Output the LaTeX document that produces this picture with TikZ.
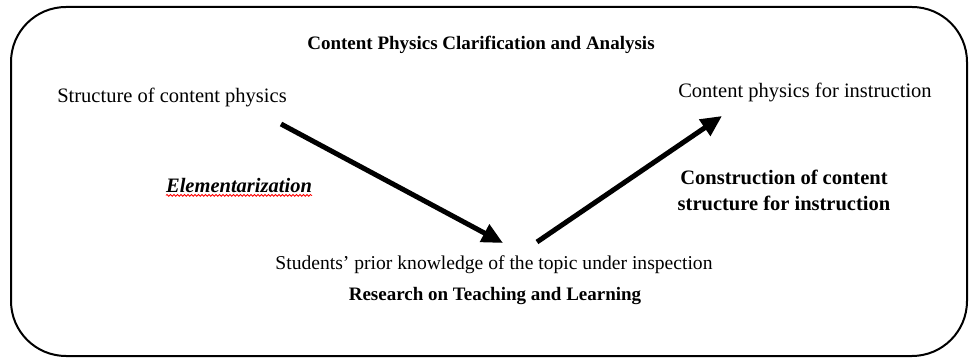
\documentclass[tikz,border=0pt]{standalone}
\usepackage{fontspec}
\setmainfont{Liberation Serif}
\usetikzlibrary{arrows.meta,decorations.pathmorphing}

\begin{document}
\begin{tikzpicture}[
    x=1pt, y=-1pt,
    txt/.style={inner sep=0pt, font=\fontsize{20.5}{25}\selectfont},
    head/.style={inner sep=0pt, font=\fontsize{19}{23}\selectfont\bfseries},
    frame/.style={line width=2pt, rounded corners=55pt},
    arrow/.style={-{Triangle[length=21pt, width=19pt]}, line width=5pt},
    squiggle/.style={red, line width=0.8pt, decorate,
        decoration={snake, amplitude=0.9pt, segment length=3.5pt}}
]
\useasboundingbox (0,0) rectangle (969,363);
\draw[frame] (11,7) rectangle (967,356);

\node[head] (title) at (481,45) {Content Physics Clarification and Analysis};
\node[txt] (structure) at (172,97) {Structure of content physics};
\node[txt] (instruct) at (805,92) {Content physics for instruction};
\node[txt, font=\fontsize{20.5}{25}\selectfont\bfseries\itshape] (element) at (239,185) {Elementarization};
\node[txt, align=center, font=\fontsize{20.5}{26}\selectfont\bfseries] (construct) at (784,190) {Construction of content\\structure for instruction};
\node[txt, font=\fontsize{19.6}{24}\selectfont] (prior) at (494,265) {Students’ prior knowledge of the topic under inspection};
\node[head] (research) at (495,296) {Research on Teaching and Learning};

\draw[squiggle] ([yshift=-3pt]element.south west) -- ([yshift=-3pt]element.south east);

\coordinate (down0) at (281,124);
\coordinate (down1) at (503,243);
\coordinate (up0) at (537,242);
\coordinate (up1) at (722,116);
\draw[arrow] (down0) -- (down1);
\draw[arrow] (up0) -- (up1);
\end{tikzpicture}
\end{document}
